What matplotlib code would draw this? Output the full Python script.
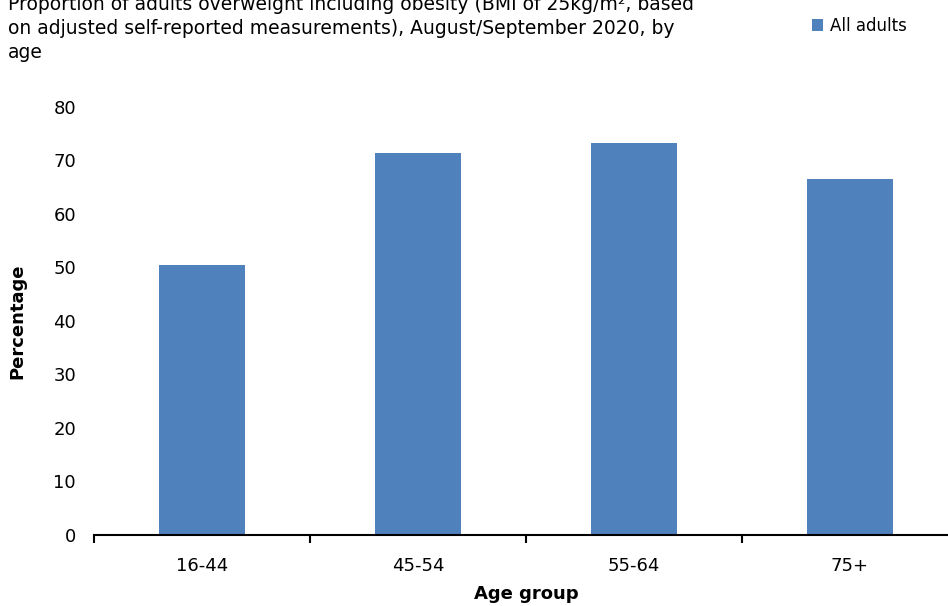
import matplotlib
matplotlib.use("Agg")
import matplotlib.pyplot as plt

# data
age_groups = ['16-44', '45-54', '55-64', '75+']
pct_overweight = [50.5, 71.4, 73.3, 66.5]

title = ("Proportion of adults overweight including obesity (BMI of 25kg/m\u00b2, based\n"
         "on adjusted self-reported measurements), August/September 2020, by\n"
         "age")

bar_color = '#4F81BD'

fig = plt.figure(figsize=(9.48, 6.06), dpi=100)
# axes runs slightly past the right edge, like the reference
ax = fig.add_axes([94 / 948, 1 - 535 / 606, 864 / 948, 428 / 606])

x = range(len(age_groups))
ax.bar(x, pct_overweight, width=0.4, color=bar_color, label='All adults')

ax.set_xlim(-0.5, len(age_groups) - 0.5)
ax.set_ylim(0, 80)
ax.set_yticks(range(0, 81, 10))
ax.set_xticks(list(x))
ax.set_xticklabels(age_groups)
ax.set_xticks([i - 0.5 for i in range(len(age_groups) + 1)], minor=True)

for side in ['top', 'right', 'left']:
    ax.spines[side].set_visible(False)
ax.spines['bottom'].set_linewidth(1.5)

ax.tick_params(axis='y', length=0, labelsize=13, pad=13)
ax.tick_params(axis='x', which='major', length=0, labelsize=13, pad=16)
ax.tick_params(axis='x', which='minor', length=6, width=1.5, direction='out')

ax.set_xlabel('Age group', fontsize=13, fontweight='bold', labelpad=7)
ax.set_ylabel('Percentage', fontsize=13, fontweight='bold', labelpad=19)

fig.text(8 / 948, 1 - 62 / 606, title, fontsize=13.5, ha='left', va='bottom',
         linespacing=1.35)

fig.legend(loc='center left', bbox_to_anchor=(805 / 948, 1 - 26 / 606),
           frameon=False, fontsize=12, handlelength=0.7, handleheight=0.7,
           handletextpad=0.4, borderaxespad=0)

fig.savefig('out.png', dpi=100)
